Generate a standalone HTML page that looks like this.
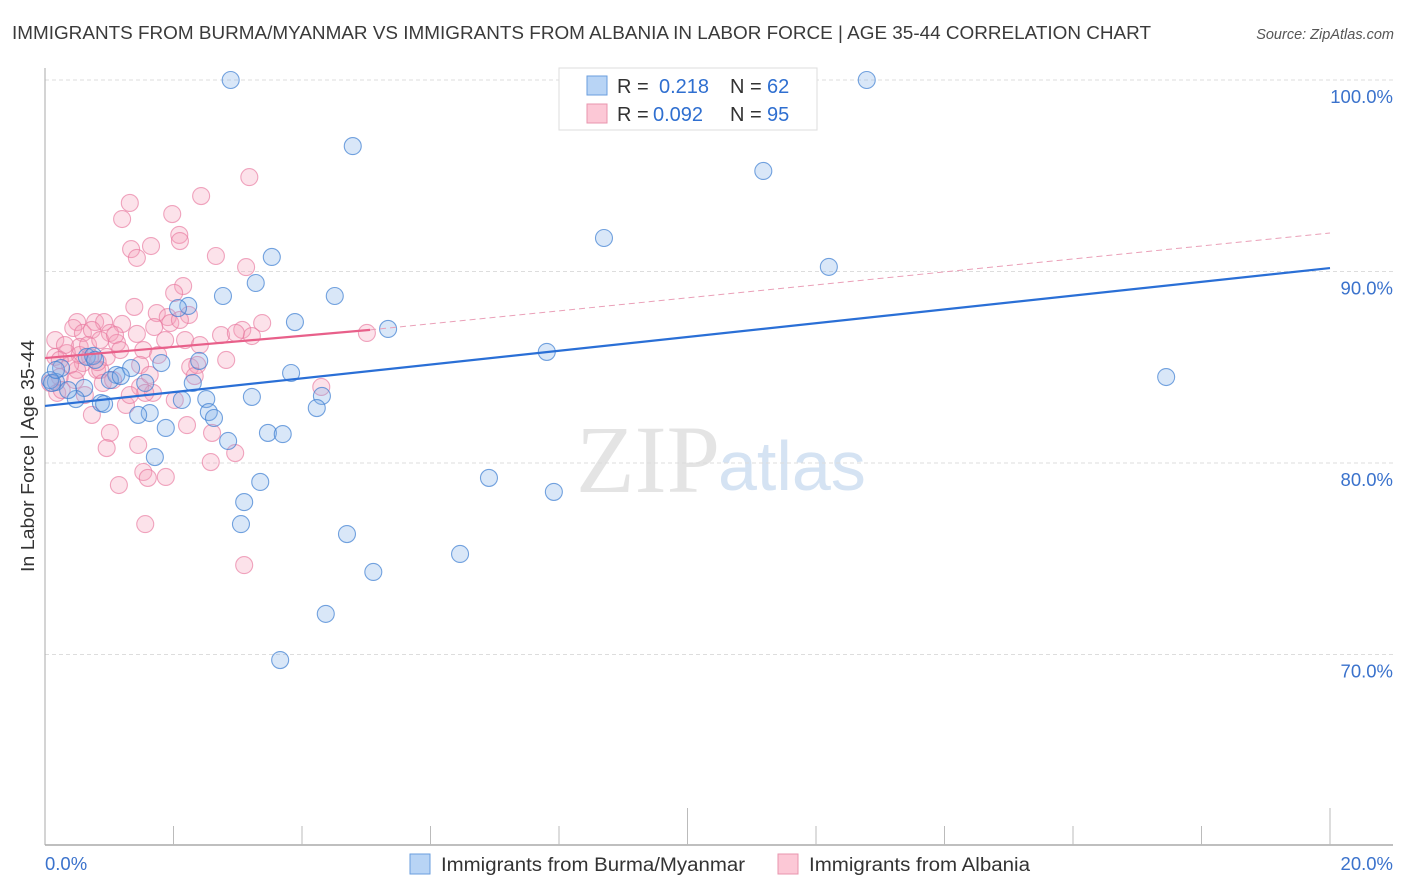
<!DOCTYPE html>
<html><head><meta charset="utf-8"><style>
body{margin:0;background:#fff;font-family:"Liberation Sans",sans-serif}
svg{display:block}
</style></head><body>
<svg id="chart" width="1406" height="892">
<text x="12" y="39" font-size="18" fill="#3a3a3a" textLength="1139" lengthAdjust="spacingAndGlyphs">IMMIGRANTS FROM BURMA/MYANMAR VS IMMIGRANTS FROM ALBANIA IN LABOR FORCE | AGE 35-44 CORRELATION CHART</text>
<text x="1394" y="39" font-size="14.5" fill="#555" font-style="italic" text-anchor="end">Source: ZipAtlas.com</text>
<text x="720" y="492" font-size="96" fill="#e4e4e4" text-anchor="end" font-family="Liberation Serif,serif">ZIP</text>
<text x="718" y="490" font-size="70" fill="#d5e3f3">atlas</text>
<g id="grid"></g><g id="axes"></g><g id="lines"></g><g id="pts"></g>
<text x="34" y="456" font-size="18" fill="#333" text-anchor="middle" textLength="232" lengthAdjust="spacingAndGlyphs" transform="rotate(-90 34 456)">In Labor Force | Age 35-44</text>
<g>
<rect x="559" y="68" width="258" height="62" fill="#fff" stroke="#ddd"/>
<rect x="587" y="76" width="20" height="19" fill="#b8d4f5" stroke="#6a9ede"/>
<rect x="587" y="104" width="20" height="19" fill="#fcc8d6" stroke="#e895ae"/>
<text x="617" y="93" font-size="20" fill="#333">R = <tspan x="659" fill="#2f6fd0">0.218</tspan><tspan x="730" fill="#333">N = </tspan><tspan x="767" fill="#2f6fd0">62</tspan></text>
<text x="617" y="121" font-size="20" fill="#333">R = <tspan x="653" fill="#2f6fd0">0.092</tspan><tspan x="730" fill="#333">N = </tspan><tspan x="767" fill="#2f6fd0">95</tspan></text>
</g>
<g>
<rect x="410" y="854" width="20" height="20" fill="#b8d4f5" stroke="#6a9ede"/>
<text x="441" y="871" font-size="19" fill="#333" textLength="304" lengthAdjust="spacingAndGlyphs">Immigrants from Burma/Myanmar</text>
<rect x="778" y="854" width="20" height="20" fill="#fcc8d6" stroke="#e895ae"/>
<text x="809" y="871" font-size="19" fill="#333" textLength="221" lengthAdjust="spacingAndGlyphs">Immigrants from Albania</text>
</g>
</svg>
<script>
const blueX=[2.89,12.79,4.79,11.18,8.70,3.53,12.20,3.28,2.77,4.51,2.23,2.07,3.89,5.34,7.81,17.45,2.40,1.81,3.83,1.11,1.34,0.65,0.75,0.25,0.17,0.61,1.01,1.18,2.30,3.22,4.31,2.51,2.13,0.48,0.87,0.92,2.55,4.23,1.63,1.45,2.63,1.88,3.47,3.70,2.85,1.71,3.35,6.91,7.92,3.10,3.05,4.70,6.46,5.11,4.37,3.66,0.08,0.11,0.36,0.17,0.78,1.56];
const blueY=[100.0,100.0,96.55,95.25,91.75,90.76,90.24,89.40,88.72,88.72,88.20,88.09,87.36,87.00,85.80,84.49,85.33,85.22,84.70,84.60,84.96,85.54,85.59,84.96,84.23,83.92,84.33,84.54,84.18,83.45,83.50,83.34,83.29,83.34,83.13,83.08,82.66,82.87,82.61,82.51,82.35,81.83,81.57,81.51,81.15,80.31,79.01,79.22,78.49,77.96,76.81,76.29,75.25,74.31,72.12,69.71,84.33,84.18,83.81,84.86,85.38,84.18];
const pinkX=[3.18,2.43,1.32,1.20,1.98,2.09,2.10,1.34,1.65,1.43,2.66,3.13,2.15,2.01,1.39,2.24,1.74,0.50,0.78,0.92,1.20,1.91,1.70,1.95,1.43,2.18,2.74,3.07,3.38,3.22,5.01,0.16,0.44,0.59,0.73,1.01,1.12,1.53,1.76,0.54,0.34,0.16,0.70,0.96,0.59,0.50,0.81,0.23,0.08,0.19,0.86,0.90,1.06,2.26,2.37,1.48,1.68,1.56,2.02,1.26,0.73,1.01,0.96,1.45,2.21,2.60,2.96,2.58,4.30,1.53,1.60,1.88,1.15,1.56,3.10,0.54,0.31,0.39,0.67,0.23,0.86,1.09,1.48,0.26,0.47,0.62,0.82,1.17,1.32,1.63,1.87,2.10,2.41,2.33,2.82,2.97];
const pinkY=[94.93,93.94,93.58,92.74,93.00,91.91,91.59,91.17,91.33,90.71,90.81,90.23,89.24,88.88,88.15,87.73,87.83,87.36,87.36,87.36,87.26,87.62,87.10,87.31,86.74,86.42,86.68,86.95,87.31,86.63,86.79,86.42,87.05,86.79,86.95,86.79,86.27,85.90,85.64,86.06,85.74,85.54,85.54,85.54,85.22,84.86,84.86,84.49,84.18,83.66,84.86,84.18,84.33,85.01,85.12,83.97,83.66,83.66,83.29,83.03,82.51,81.57,80.78,80.94,81.98,81.57,80.52,80.05,83.97,79.53,79.22,79.27,78.85,76.81,74.67,85.64,86.16,85.12,86.16,85.38,86.42,86.68,85.12,83.81,84.33,83.55,85.27,85.90,83.55,84.60,86.42,87.47,86.16,84.54,85.38,86.79];
const blueTrend=[82.98,90.18];
const pinkTrend=[85.48,86.95,92.01];
const pinkTrendX=[0,5.06,20];
const yTicks=[100,90,80,70];
const yTickLabels=["100.0%","90.0%","80.0%","70.0%"];
const xTickLabels=["0.0%","20.0%"];
const NS="http://www.w3.org/2000/svg";
const xs=v=>45+v*64.25, ys=v=>80+(100-v)*19.15;
function mk(t,a,p){const e=document.createElementNS(NS,t);for(const k in a)e.setAttribute(k,a[k]);p.appendChild(e);return e;}
const grid=document.getElementById('grid'),axes=document.getElementById('axes'),lines=document.getElementById('lines'),pts=document.getElementById('pts');
yTicks.forEach((t,i)=>{
 const g=mk('line',{x1:45,x2:1393,y1:ys(t),y2:ys(t),stroke:'#ddd','stroke-dasharray':'4 3'},grid);
 
 
 const l=mk('text',{x:1393,y:ys(t)+23,'font-size':18.5,fill:'#3a72cc','text-anchor':'end'},axes);
 l.textContent=yTickLabels[i];
 
 
});
const ya=mk('line',{x1:45,x2:45,y1:68,y2:845,stroke:'#aaa'},axes);


const xa=mk('line',{x1:45,x2:1393,y1:845,y2:845,stroke:'#aaa','stroke-width':1.5},axes);


for(let i=1;i<=10;i++){
 const tk=mk('line',{x1:xs(i*2),x2:xs(i*2),y1:(i==5||i==10)?808:826,y2:845,stroke:'#bbb'},axes);
 
 
}
[[0,'start'],[20,'end']].forEach((p,i)=>{
 const l=mk('text',{x:i?1393:45,y:870,'font-size':18.5,fill:'#3a72cc','text-anchor':p[1]},axes);
 l.textContent=xTickLabels[i];
 
 
});
function dot(x,y,f,s,n){const c=mk('circle',{cx:xs(x),cy:ys(y),r:8.5,fill:f,stroke:s,'stroke-width':1.1},pts);
 
 }
pinkX.forEach((x,i)=>dot(x,pinkY[i],'rgba(245,160,185,0.3)','rgba(232,120,158,0.65)','albania-point'));
blueX.forEach((x,i)=>dot(x,blueY[i],'rgba(130,175,232,0.3)','rgba(60,125,210,0.7)','burma-point'));
const bl=mk('line',{x1:xs(0),y1:ys(blueTrend[0]),x2:xs(20),y2:ys(blueTrend[1]),stroke:'#2a6fd6','stroke-width':2.2},lines);


const pl=mk('line',{x1:xs(pinkTrendX[0]),y1:ys(pinkTrend[0]),x2:xs(pinkTrendX[1]),y2:ys(pinkTrend[1]),stroke:'#e8608a','stroke-width':2.2},lines);


const pd=mk('line',{x1:xs(pinkTrendX[1]),y1:ys(pinkTrend[1]),x2:xs(pinkTrendX[2]),y2:ys(pinkTrend[2]),stroke:'#eaa0b8','stroke-width':1,'stroke-dasharray':'6 4'},lines);


document.getElementById('chart').appendChild(lines);
</script>
</body></html>
